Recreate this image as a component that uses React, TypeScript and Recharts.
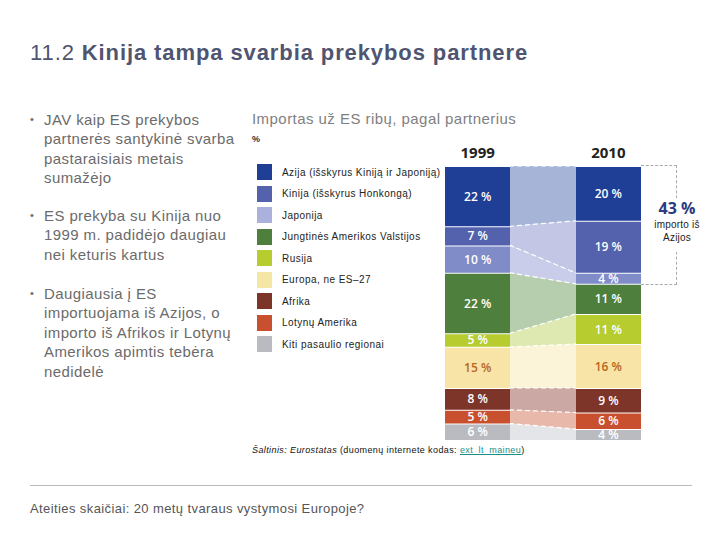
import React from 'react'
import { AreaChart, Area, XAxis, YAxis, LabelList } from 'recharts'

const years = ['1999', '2010']
const regions = [
  'Azija (išskyrus Kiniją ir Japoniją)',
  'Kinija (išskyrus Honkongą)',
  'Japonija',
  'Jungtinės Amerikos Valstijos',
  'Rusija',
  'Europa, ne ES–27',
  'Afrika',
  'Lotynų Amerika',
  'Kiti pasaulio regionai',
]
const shares1999 = [22, 7, 10, 22, 5, 15, 8, 5, 6]
const shares2010 = [20, 19, 4, 11, 11, 16, 9, 6, 4]
const asiaShare2010 = 43

const bullets = [
  ['JAV kaip ES prekybos', 'partnerės santykinė svarba', 'pastaraisiais metais', 'sumažėjo'],
  ['ES prekyba su Kinija nuo', '1999 m. padidėjo daugiau', 'nei keturis kartus'],
  ['Daugiausia į ES', 'importuojama iš Azijos, o', 'importo iš Afrikos ir Lotynų', 'Amerikos apimtis tebėra', 'nedidelė'],
]

const barColors = ['#1f3e96', '#5461ad', '#7f8cc8', '#4e7f3d', '#b6cc2f', '#f7e4a6', '#7d3429', '#c8502f', '#b9bbc0']
const linkColors = ['#a6b4d8', '#c3c6e5', '#c9cde9', '#b6cdae', '#dde9b0', '#fcf4d8', '#cca8a4', '#e8b8ab', '#e4e5e9']
const legendColors = ['#1f3e96', '#5461ad', '#a9b1dc', '#4e7f3d', '#b6cc2f', '#f5e6a6', '#7d3429', '#c8502f', '#b9bbc0']
const labelColors = ['#fff', '#fff', '#fff', '#fff', '#fff', '#b9661d', '#fff', '#fff', '#fff']

const CHART_W = 196
const PLOT_H = 274
const AXIS_H = 30
const pxPerPct = PLOT_H / 100

const keys = regions.map((_, i) => `r${i}`)
const seriesByYear = [shares1999, shares2010]

// each year: left edge, centre (label), right edge of its bar
const rows = years.flatMap((year, yi) =>
  [0, 0.5, 1].map((off) => {
    const row: Record<string, number | string> = { pos: yi * 2 + off, year }
    keys.forEach((k, ri) => {
      row[k] = seriesByYear[yi][ri]
    })
    return row
  })
)

const SegmentLabel = (color: string) => (p: any) => {
  if (p.index !== 1 && p.index !== 4) return null
  const x = p.x ?? p.viewBox?.x
  const y = p.y ?? p.viewBox?.y
  const v = Number(p.value)
  return (
    <text
      x={x}
      y={y + (v * pxPerPct) / 2}
      textAnchor="middle"
      dominantBaseline="central"
      fill={color}
      fontFamily="'Open Sans', sans-serif"
      fontWeight={600}
      fontSize={12}
    >
      {`${v} %`}
    </text>
  )
}

const sans = "'Liberation Sans', Arial, sans-serif"

export default function App() {
  const order = keys.map((_, i) => i).reverse()
  return (
    <div style={{ position: 'absolute', left: 0, top: 0, width: 720, height: 540, background: '#fff', fontFamily: sans, overflow: 'hidden' }}>
      <div style={{ position: 'absolute', left: 30, top: 40, fontSize: 22, letterSpacing: 0.9, color: '#4f5470', whiteSpace: 'nowrap' }}>
        11.2 <b>Kinija tampa svarbia prekybos partnere</b>
      </div>

      {bullets.map((lines, bi) => (
        <div key={bi} style={{ position: 'absolute', left: 30, top: [110, 206, 284][bi], fontSize: 15, lineHeight: '19.4px', letterSpacing: 0.4, color: '#6b6b6b' }}>
          <span style={{ position: 'absolute', left: 0, top: 0, fontSize: 11 }}>•</span>
          {lines.map((l, li) => (
            <div key={li} style={{ marginLeft: 14, whiteSpace: 'nowrap' }}>{l}</div>
          ))}
        </div>
      ))}

      <div style={{ position: 'absolute', left: 252, top: 110, fontSize: 15, letterSpacing: 0.45, color: '#808080', whiteSpace: 'nowrap' }}>
        Importas už ES ribų, pagal partnerius
      </div>
      <div style={{ position: 'absolute', left: 252, top: 134, fontSize: 9, fontWeight: 700, color: '#333' }}>%</div>

      {regions.map((name, i) => (
        <div key={name} style={{ position: 'absolute', left: 257, top: 164 + i * 21.5, height: 16, display: 'flex', alignItems: 'center' }}>
          <div style={{ width: 15, height: 16, background: legendColors[i] }} />
          <span style={{ marginLeft: 10, fontSize: 10, color: '#222', letterSpacing: 0.45, whiteSpace: 'nowrap' }}>{name}</span>
        </div>
      ))}

      <div style={{ position: 'absolute', left: 445, top: 166 - AXIS_H }}>
        <AreaChart width={CHART_W} height={PLOT_H + AXIS_H} data={rows} margin={{ top: 0, right: 0, bottom: 0, left: 0 }}>
          <defs>
            {keys.map((k, i) => (
              <linearGradient key={k} id={`fill-${k}`} x1="0" y1="0" x2="1" y2="0">
                <stop offset="0" stopColor={barColors[i]} />
                <stop offset="0.3333" stopColor={barColors[i]} />
                <stop offset="0.3333" stopColor={linkColors[i]} />
                <stop offset="0.6667" stopColor={linkColors[i]} />
                <stop offset="0.6667" stopColor={barColors[i]} />
                <stop offset="1" stopColor={barColors[i]} />
              </linearGradient>
            ))}
            <linearGradient id="edge-solid" gradientUnits="userSpaceOnUse" x1="0" y1="0" x2={CHART_W} y2="0">
              <stop offset="0" stopColor="#fff" stopOpacity={1} />
              <stop offset="0.3333" stopColor="#fff" stopOpacity={1} />
              <stop offset="0.3333" stopColor="#fff" stopOpacity={0} />
              <stop offset="0.6667" stopColor="#fff" stopOpacity={0} />
              <stop offset="0.6667" stopColor="#fff" stopOpacity={1} />
              <stop offset="1" stopColor="#fff" stopOpacity={1} />
            </linearGradient>
            <linearGradient id="edge-dash" gradientUnits="userSpaceOnUse" x1="0" y1="0" x2={CHART_W} y2="0">
              <stop offset="0" stopColor="#fff" stopOpacity={0} />
              <stop offset="0.3333" stopColor="#fff" stopOpacity={0} />
              <stop offset="0.3333" stopColor="#fff" stopOpacity={1} />
              <stop offset="0.6667" stopColor="#fff" stopOpacity={1} />
              <stop offset="0.6667" stopColor="#fff" stopOpacity={0} />
              <stop offset="1" stopColor="#fff" stopOpacity={0} />
            </linearGradient>
          </defs>
          <XAxis
            dataKey="pos"
            type="number"
            domain={[0, 3]}
            orientation="top"
            height={AXIS_H}
            ticks={[0.5, 2.5]}
            tickFormatter={(v) => years[Math.round((v - 0.5) / 2)]}
            axisLine={false}
            tickLine={false}
            tick={{ fill: '#222', fontSize: 15, fontWeight: 700, fontFamily: "'Open Sans', sans-serif" }}
          />
          <YAxis hide domain={[0, 100]} />
          {order.map((i) => (
            <Area
              key={keys[i]}
              dataKey={keys[i]}
              stackId="fill"
              type="linear"
              fill={`url(#fill-${keys[i]})`}
              fillOpacity={1}
              stroke="url(#edge-solid)"
              strokeWidth={2}
              isAnimationActive={false}
              dot={false}
              activeDot={false}
            >
              <LabelList dataKey={keys[i]} content={SegmentLabel(labelColors[i])} />
            </Area>
          ))}
          {order.map((i) => (
            <Area
              key={`d-${keys[i]}`}
              dataKey={keys[i]}
              stackId="dash"
              type="linear"
              fill="none"
              stroke="url(#edge-dash)"
              strokeWidth={1.2}
              strokeDasharray="5 3"
              isAnimationActive={false}
              dot={false}
              activeDot={false}
            />
          ))}
        </AreaChart>
      </div>

      <div
        style={{
          position: 'absolute',
          left: 641,
          top: 165,
          width: 35,
          height: asiaShare2010 * pxPerPct,
          borderTop: '1px dashed #aaa',
          borderRight: '1px dashed #aaa',
          borderBottom: '1px dashed #aaa',
        }}
      />
      <div style={{ position: 'absolute', left: 646, top: 198, width: 62, height: 54, background: '#fff', textAlign: 'center' }}>
        <div style={{ fontFamily: "'Open Sans', sans-serif", fontWeight: 700, fontSize: 16, color: '#2b3a82', lineHeight: '20px' }}>
          {asiaShare2010} %
        </div>
        <div style={{ fontSize: 10, color: '#222', lineHeight: '13px', letterSpacing: 0.2 }}>importo iš</div>
        <div style={{ fontSize: 10, color: '#222', lineHeight: '13px', letterSpacing: 0.2 }}>Azijos</div>
      </div>

      <div style={{ position: 'absolute', left: 252, top: 445, fontSize: 9, color: '#111', whiteSpace: 'nowrap', letterSpacing: 0.4 }}>
        <i>Šaltinis: Eurostatas</i> (duomenų internete kodas: <span style={{ color: '#1a8f8a', textDecoration: 'underline' }}>ext_lt_maineu</span>)
      </div>

      <div style={{ position: 'absolute', left: 30, top: 485, width: 662, height: 1, background: '#bbb' }} />
      <div style={{ position: 'absolute', left: 30, top: 501, fontSize: 13, letterSpacing: 0.4, color: '#555', whiteSpace: 'nowrap' }}>
        Ateities skaičiai: 20 metų tvaraus vystymosi Europoje?
      </div>
    </div>
  )
}
